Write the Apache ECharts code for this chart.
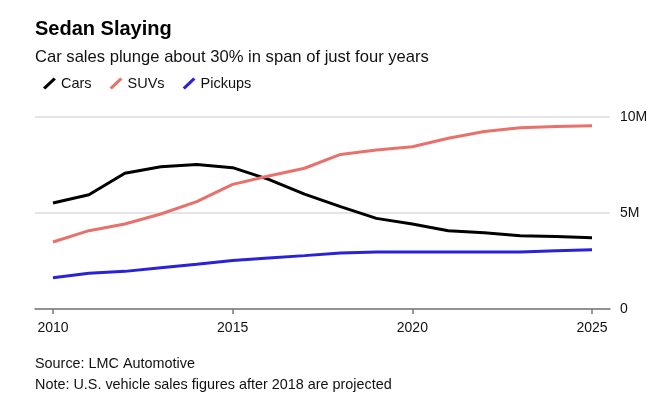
<!DOCTYPE html>
<html>
<head>
<meta charset="utf-8">
<script src="https://cdn.jsdelivr.net/npm/echarts@6/dist/echarts.min.js"></script>
<style>html,body{margin:0;padding:0;background:#fff}#c{width:667px;height:410px}</style>
</head>
<body>
<div id="c"></div>
<script>
const years = [2010,2011,2012,2013,2014,2015,2016,2017,2018,2019,2020,2021,2022,2023,2024,2025];
const cars = [5.52,5.95,7.07,7.41,7.53,7.36,6.75,5.98,5.33,4.72,4.43,4.08,3.97,3.82,3.77,3.71];
const suvs = [3.49,4.08,4.43,4.95,5.59,6.49,6.93,7.33,8.05,8.28,8.45,8.89,9.24,9.44,9.50,9.55];
const pickups = [1.63,1.86,1.96,2.15,2.33,2.52,2.66,2.78,2.92,2.97,2.97,2.97,2.97,2.97,3.03,3.08];
const xTicks = [2010,2015,2020,2025];
const yTicks = [0,5,10];
const yTickLabels = {0:'0',5:'5M',10:'10M'};

const font = 'Liberation Sans, Arial, sans-serif';
const icon = 'path://M0,10.5 L10.5,0.5 L12.8,2.4 L2.3,12.4 Z';
const mk = (name, data, color) => ({
  name, type:'line', data: years.map((y,i)=>[y,data[i]]),
  showSymbol:false, symbol:'none', lineStyle:{width:3,color}, itemStyle:{color},
  silent:true, animation:false
});
const chart = echarts.init(document.getElementById('c'), null, {renderer:'canvas'});
chart.setOption({
  animation:false,
  title:[
    {text:'Sedan Slaying', left:30, top:14, textStyle:{fontFamily:font, fontSize:20, fontWeight:'bold', color:'#000'}},
    {text:'Car sales plunge about 30% in span of just four years', left:30, top:44, textStyle:{fontFamily:font, fontSize:16.6, fontWeight:'normal', color:'#111'}},
    {text:'Source: LMC Automotive', left:30, top:352, textStyle:{fontFamily:font, fontSize:14.4, fontWeight:'normal', color:'#111'}},
    {text:'Note: U.S. vehicle sales figures after 2018 are projected', left:30, top:373, textStyle:{fontFamily:font, fontSize:14.4, fontWeight:'normal', color:'#111'}}
  ],
  legend:{left:38, top:71, itemWidth:13, itemHeight:12, itemGap:18, icon:icon,
    textStyle:{fontFamily:font, fontSize:14.5, color:'#111'},
    data:['Cars','SUVs','Pickups']},
  grid:{left:35, right:57, top:117, bottom:101, containLabel:false},
  xAxis:{type:'value', min:2009.5, max:2025.5,
    axisLine:{show:true, lineStyle:{color:'#777', width:1.5}},
    axisTick:{show:true, customValues:xTicks, length:5, lineStyle:{color:'#777', width:1.5}},
    axisLabel:{customValues:xTicks, margin:12, fontFamily:font, fontSize:14, color:'#111', formatter:v=>String(v)},
    splitLine:{show:false}},
  yAxis:{type:'value', position:'right', min:0, max:10, interval:5,
    axisLine:{show:false}, axisTick:{show:false},
    axisLabel:{margin:10, fontFamily:font, fontSize:14, color:'#111', formatter:v=>yTickLabels[v]},
    splitLine:{show:true, lineStyle:{color:'#ddd', width:1.5}}},
  series:[mk('Cars',cars,'#000000'), mk('SUVs',suvs,'#e8716b'), mk('Pickups',pickups,'#2a22d6')]
});
</script>
</body>
</html>
